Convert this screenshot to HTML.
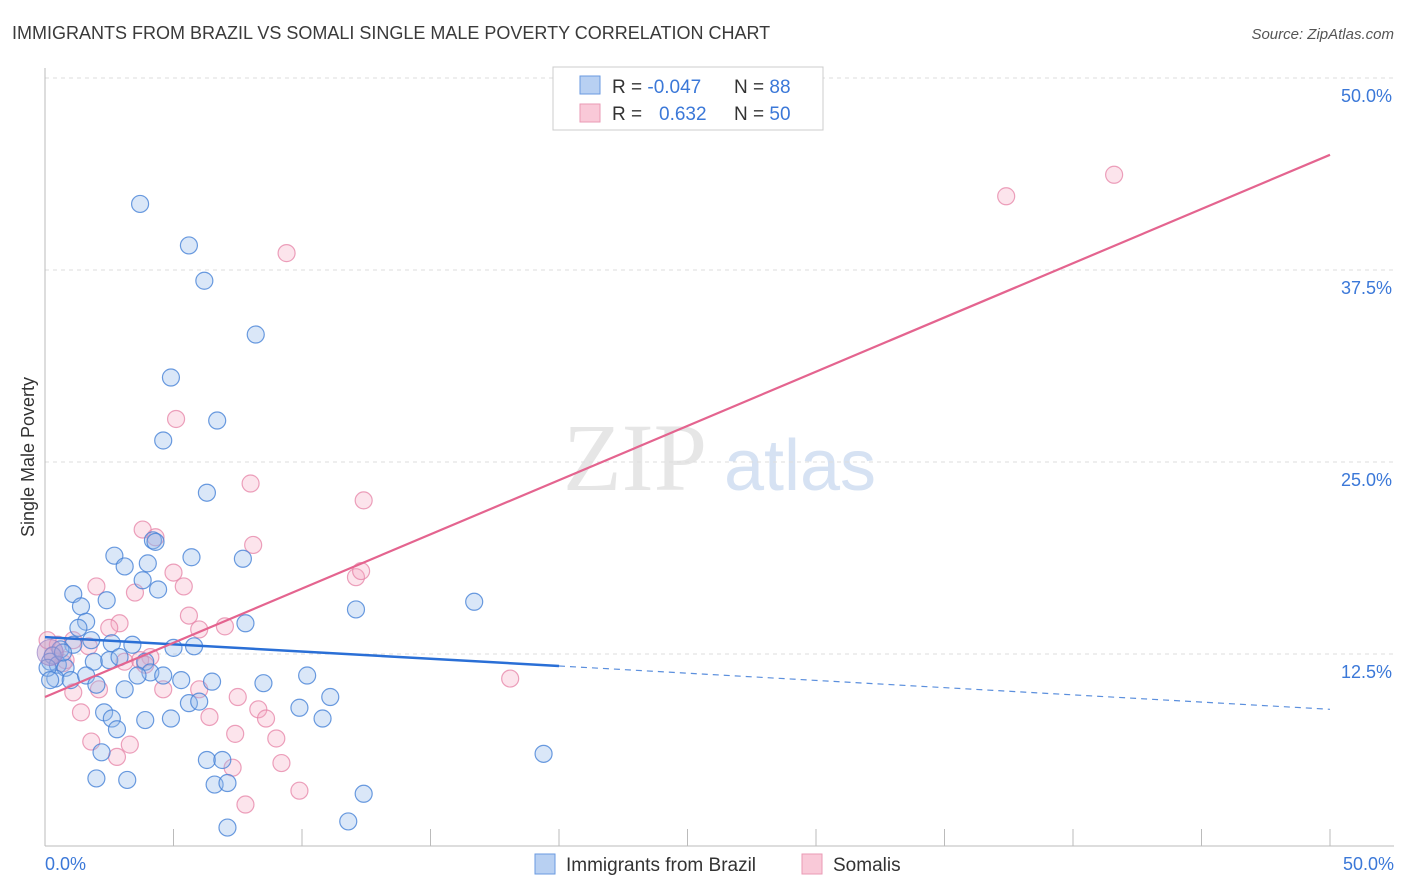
<!DOCTYPE html>
<html><head><meta charset="utf-8"><style>
body{margin:0;background:#fff;font-family:"Liberation Sans",sans-serif}
svg{display:block}
</style></head><body>
<svg id="chart" width="1406" height="892">
<text x="12" y="39" font-size="18" fill="#3a3a3a">IMMIGRANTS FROM BRAZIL VS SOMALI SINGLE MALE POVERTY CORRELATION CHART</text>
<text x="1394" y="39" font-size="15" fill="#555" text-anchor="end" font-style="italic">Source: ZipAtlas.com</text>
<text x="635" y="490" font-size="96" fill="#e6e6e6" font-family="Liberation Serif" text-anchor="middle">ZIP</text>
<text x="800" y="490" font-size="72" fill="#d6e2f3" text-anchor="middle">atlas</text>
<g id="grid"></g>
<g id="axes"></g>
<g id="pts"></g>
<g id="trend"></g>
<text transform="translate(34,457) rotate(-90)" font-size="18" fill="#333" text-anchor="middle">Single Male Poverty</text>
<text x="45" y="870" font-size="18" fill="#3b78d8">0.0%</text>
<text x="1394" y="870" font-size="18" fill="#3b78d8" text-anchor="end">50.0%</text>
<g>
<rect x="553" y="67" width="270" height="63" fill="#fff" stroke="#ccc"/>
<rect x="580" y="76" width="20" height="18" fill="#b8d0f2" stroke="#6a9ae0"/>
<rect x="580" y="104" width="20" height="18" fill="#f9c9d8" stroke="#ea9ab4"/>
<text x="612" y="93" font-size="19" fill="#333">R = <tspan fill="#3b78d8">-0.047</tspan><tspan x="734">N = </tspan><tspan fill="#3b78d8">88</tspan></text>
<text x="612" y="120" font-size="19" fill="#333">R = <tspan x="659" fill="#3b78d8">0.632</tspan><tspan x="734">N = </tspan><tspan fill="#3b78d8">50</tspan></text>
</g>
<g><rect x="535" y="854" width="20" height="20" fill="#b8d0f2" stroke="#6a9ae0"/><text x="566" y="871" font-size="19" fill="#333">Immigrants from Brazil</text></g>
<g><rect x="802" y="854" width="20" height="20" fill="#f9c9d8" stroke="#ea9ab4"/><text x="833" y="871" font-size="19" fill="#333">Somalis</text></g>
</svg>
<script>
const blueX=[3.7,5.6,6.2,8.2,4.9,4.6,6.7,6.3,4.2,2.7,3.1,4.0,5.7,7.7,3.8,4.4,1.1,2.4,1.4,1.6,1.3,7.8,12.1,16.7,1.8,2.6,3.4,5.8,5.0,1.1,0.6,0.3,0.2,0.5,0.8,1.9,2.5,2.9,3.9,4.1,3.6,4.6,5.3,6.5,8.5,10.2,0.4,1.0,1.6,2.0,3.1,11.1,5.6,6.0,9.9,10.8,2.3,2.6,3.9,4.9,2.8,2.2,2.0,3.2,6.3,6.9,6.6,7.1,12.4,19.4,7.1,11.8,0.1,0.2,0.7,4.3];
const blueY=[41.8,39.1,36.8,33.3,30.5,26.4,27.7,23.0,19.9,18.9,18.2,18.4,18.8,18.7,17.3,16.7,16.4,16.0,15.6,14.6,14.2,14.5,15.4,15.9,13.4,13.2,13.1,13.0,12.9,13.1,12.8,12.4,12.0,11.8,11.6,12.0,12.1,12.3,12.0,11.3,11.1,11.1,10.8,10.7,10.6,11.1,10.9,10.8,11.1,10.5,10.2,9.7,9.3,9.4,9.0,8.3,8.7,8.3,8.2,8.3,7.6,6.1,4.4,4.3,5.6,5.6,4.0,4.1,3.4,6.0,1.2,1.6,11.6,10.8,12.6,19.8];
const pinkX=[9.4,37.4,41.6,5.1,8.0,12.4,3.8,4.3,8.1,5.0,5.4,12.1,12.3,2.0,3.5,5.6,2.9,2.5,6.0,7.0,4.1,3.7,3.1,4.6,6.0,7.5,2.1,1.1,1.4,6.4,8.3,8.6,1.8,3.3,2.8,7.4,9.0,7.3,9.2,9.9,7.8,18.1,0.5,0.7,0.1,0.3,1.7,1.1,3.9,0.8];
const pinkY=[38.6,42.3,43.7,27.8,23.6,22.5,20.6,20.1,19.6,17.8,16.9,17.5,17.9,16.9,16.5,15.0,14.5,14.2,14.1,14.3,12.3,12.1,12.0,10.2,10.2,9.7,10.2,10.0,8.7,8.4,8.9,8.3,6.8,6.6,5.8,7.3,7.0,5.1,5.4,3.6,2.7,10.9,13.1,11.9,13.4,12.4,13.0,13.4,11.8,12.1];
const yTicks=[12.5,25.0,37.5,50.0];
const xTicks=[0,5,10,15,20,25,30,35,40,45,50];
const blueTrend=[13.6,8.9];
const pinkTrend=[9.7,45.0];
const blueSolidEnd=20;

const X=v=>45+v/50*1285, Y=v=>846-v/50*768;
const NS='http://www.w3.org/2000/svg';
function mk(t,a,p){const e=document.createElementNS(NS,t);for(const k in a)e.setAttribute(k,a[k]);p.appendChild(e);return e;}
const grid=document.getElementById('grid'),axes=document.getElementById('axes'),pts=document.getElementById('pts'),tr=document.getElementById('trend');
yTicks.forEach(v=>{
 const l=mk('line',{x1:45,x2:1394,y1:Y(v),y2:Y(v),stroke:'#ddd','stroke-dasharray':'4,4'},grid);
 
 
 const t=mk('text',{x:1392,y:Y(v)+24,'font-size':18,fill:'#3b78d8','text-anchor':'end'},grid);
 t.textContent=v.toFixed(1)+'%';
 
 
});
const ya=mk('line',{x1:45,x2:45,y1:68,y2:846,stroke:'#bbb'},axes);


const xa=mk('line',{x1:45,x2:1394,y1:846,y2:846,stroke:'#bbb'},axes);


xTicks.forEach(v=>{
 const l=mk('line',{x1:X(v),x2:X(v),y1:829,y2:846,stroke:'#bbb'},axes);
 
 
});
pinkX.forEach((x,i)=>{
 const c=mk('circle',{cx:X(x),cy:Y(pinkY[i]),r:8.5,fill:'rgba(244,166,192,0.3)',stroke:'rgba(230,130,165,0.75)','stroke-width':1.2},pts);
 
 
});
blueX.forEach((x,i)=>{
 const c=mk('circle',{cx:X(x),cy:Y(blueY[i]),r:8.5,fill:'rgba(150,185,235,0.35)',stroke:'rgba(70,130,215,0.8)','stroke-width':1.2},pts);
 
 
});
const big=mk('circle',{cx:X(0.2),cy:Y(12.6),r:13,fill:'rgba(190,150,200,0.45)',stroke:'rgba(150,130,200,0.7)'},pts);


const by=x=>blueTrend[0]+(blueTrend[1]-blueTrend[0])*x/50;
const b1=mk('line',{x1:X(0),y1:Y(by(0)),x2:X(blueSolidEnd),y2:Y(by(blueSolidEnd)),stroke:'#2a6fd6','stroke-width':2.5},tr);


const b2=mk('line',{x1:X(blueSolidEnd),y1:Y(by(blueSolidEnd)),x2:X(50),y2:Y(by(50)),stroke:'#5b8fdd','stroke-width':1.2,'stroke-dasharray':'6,5'},tr);


const p1=mk('line',{x1:X(0),y1:Y(pinkTrend[0]),x2:X(50),y2:Y(pinkTrend[1]),stroke:'#e4648f','stroke-width':2.2},tr);


</script>
</body></html>
